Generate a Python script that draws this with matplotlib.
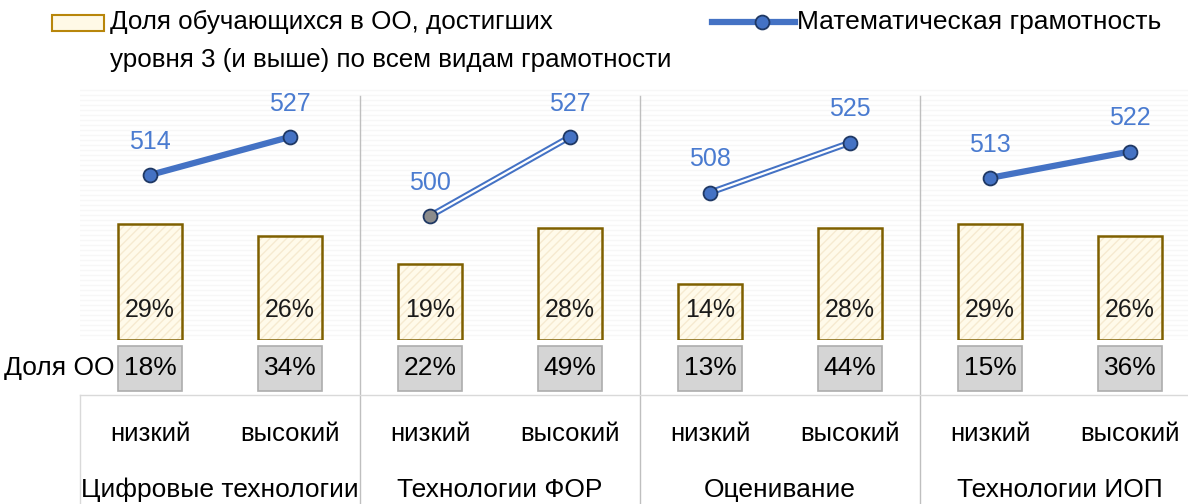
import matplotlib.pyplot as plt
import matplotlib.patches as mpatches
from matplotlib.lines import Line2D
import matplotlib.transforms as mtransforms

plt.rcParams["font.family"] = ["Liberation Sans", "DejaVu Sans"]
plt.rcParams["hatch.linewidth"] = 1.0

groups = ["Цифровые технологии", "Технологии ФОР", "Оценивание", "Технологии ИОП"]
levels = ["низкий", "высокий"]
share_students = [29, 26, 19, 28, 14, 28, 29, 26]
share_schools = [18, 34, 22, 49, 13, 44, 15, 36]
math_score = [514, 527, 500, 527, 508, 525, 513, 522]

W, H = 1188, 504
fig = plt.figure(figsize=(W / 100, H / 100), dpi=100)
ax = fig.add_axes([80 / W, 1 - 340 / H, (W - 80) / W, 255 / H])
ax2 = ax.twinx()

x = list(range(len(share_students)))
bw = 64 / 140

# faint stripes in the plot area
for i in range(0, 255, 5):
	ax.axhline(i / 4.0, color="#f7f7f7", lw=1, zorder=0)

# bars: hatch layer + outline
ax.bar(x, share_students, width=bw, color="#fffaea", edgecolor="#f6ead0",
	hatch="////", linewidth=0, zorder=2)
ax.bar(x, share_students, width=bw, fill=False, edgecolor="#7f6000",
	linewidth=1.8, zorder=3)
for xi, v in zip(x, share_students):
	ax.text(xi, 7.5, f"{v}%", ha="center", va="center", fontsize=18, color="#1a1a1a", zorder=4)

# "Доля ОО" row below the bars
ax.bar(x, -11.25, bottom=-1.5, width=bw, color="#d5d5d5", edgecolor="#adadad",
	linewidth=1.2, clip_on=False, zorder=2)
for xi, v in zip(x, share_schools):
	ax.text(xi, -7.1, f"{v}%", ha="center", va="center", fontsize=19, color="black", clip_on=False)
ax.text(-0.25, -7.1, "Доля ОО", ha="right", va="center", fontsize=19, color="black")

ax.set_xlim(-0.5, (W - 80) / 140 - 0.5)
ax.set_ylim(0, 255 / 4.0)
ax2.set_ylim(500 - 124 / 2.93, 500 + 131 / 2.93)

# line per group
blue = "#4472c4"
for g in range(len(groups)):
	xs = x[2 * g:2 * g + 2]
	ys = math_score[2 * g:2 * g + 2]
	ax2.plot(xs, ys, color=blue, lw=4.5, solid_capstyle="round", zorder=5)
	if g in (1, 2):
		ax2.plot(xs, ys, color="white", lw=1.6, zorder=6)
	for k, (xi, yi) in enumerate(zip(xs, ys)):
		fc = "#8c8c8c" if (g == 1 and k == 0) else blue
		ax2.plot(xi, yi, "o", ms=10, mfc=fc, mec="#1f3864", mew=1.3, zorder=7)
		ax2.annotate(str(yi), (xi, yi), xytext=(0, 24), textcoords="offset points",
			ha="center", va="center", fontsize=18, color="#4a7bd0")

for a in (ax, ax2):
	for s in a.spines.values():
		s.set_visible(False)
	a.set_xticks([])
	a.set_yticks([])

# group separators and category table
trans = mtransforms.blended_transform_factory(ax.transData, ax.transAxes)
for sx in (1.5, 3.5, 5.5):
	ax.plot([sx, sx], [-0.65, 0.955], color="#bfbfbf", lw=1, transform=trans, clip_on=False)
ax.plot([-0.5, 7.5], [-0.216, -0.216], color="#d9d9d9", lw=1, transform=trans, clip_on=False)
ax.plot([-0.5, -0.5], [-0.216, -0.65], color="#d9d9d9", lw=1, transform=trans, clip_on=False)

for xi in x:
	ax.text(xi, -0.369, levels[xi % 2], ha="center", va="center", fontsize=18.5,
		transform=trans, color="black")
for g, name in enumerate(groups):
	ax.text(2 * g + 0.5, -0.588, name, ha="center", va="center", fontsize=19,
		transform=trans, color="black")

# legend drawn in figure pixels
fig.patches.append(mpatches.Rectangle((52 / W, 1 - 31 / H), 52 / W, 16 / H,
	transform=fig.transFigure, facecolor="#fff9e6", edgecolor="#b8860b", lw=1.5))
fig.text(110 / W, 1 - 22 / H, "Доля обучающихся в ОО, достигших", fontsize=18.7, va="center")
fig.text(110 / W, 1 - 60 / H, "уровня 3 (и выше) по всем видам грамотности", fontsize=18.7, va="center")
fig.lines.append(Line2D([712 / W, 795 / W], [1 - 22 / H] * 2, transform=fig.transFigure,
	color=blue, lw=4.5))
fig.lines.append(Line2D([762 / W], [1 - 22 / H], transform=fig.transFigure, marker="o",
	ms=10, mfc=blue, mec="#1f3864", mew=1.3))
fig.text(797 / W, 1 - 22 / H, "Математическая грамотность", fontsize=19, va="center")

fig.savefig("out.png", dpi=100)
